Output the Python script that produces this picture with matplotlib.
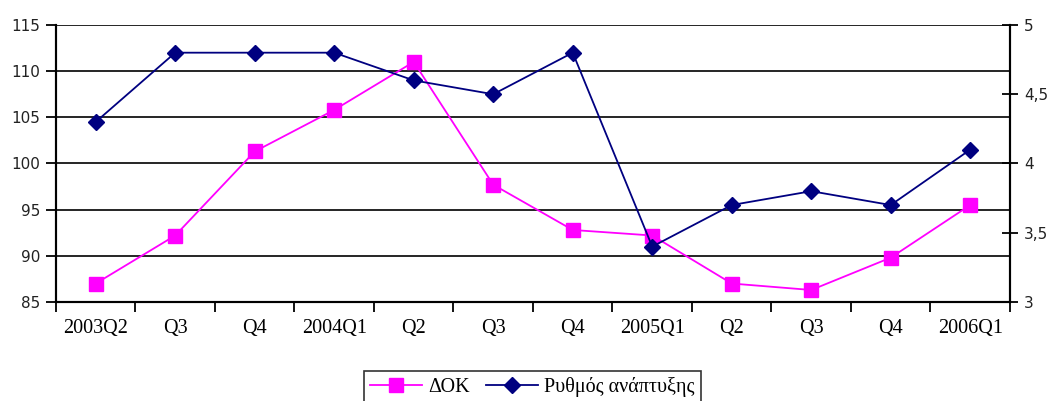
import numpy as np
import matplotlib.pyplot as plt

plt.rcParams['font.family'] = ['Liberation Serif', 'DejaVu Serif']

quarters = ["2003Q2", "Q3", "Q4", "2004Q1", "Q2", "Q3", "Q4",
            "2005Q1", "Q2", "Q3", "Q4", "2006Q1"]
dok = [87.0, 92.2, 101.3, 105.8, 111.0, 97.7, 92.8, 92.2, 87.0, 86.3, 89.8, 95.5]
growth = [4.3, 4.8, 4.8, 4.8, 4.6, 4.5, 4.8, 3.4, 3.7, 3.8, 3.7, 4.1]

fig = plt.figure(figsize=(10.5, 4.01), dpi=100)
ax = fig.add_axes([0.0533, 0.2469, 0.9086, 0.6908])
ax2 = ax.twinx()

x = np.arange(len(quarters))

# gridlines at left-axis major ticks
ax.set_ylim(85, 115)
ax.set_yticks(np.arange(85, 116, 5))
ax.grid(axis='y', color='black', lw=1.2)
ax.set_axisbelow(True)

l1, = ax.plot(x, dok, color='#FF00FF', marker='s', markersize=10, lw=1.3, label='ΔΟΚ')
l2, = ax2.plot(x, growth, color='#000080', marker='D', markersize=8, lw=1.3, label='Ρυθμός ανάπτυξης')

ax.set_xlim(-0.5, len(quarters) - 0.5)
ax.set_xticks(x)
ax.set_xticklabels(quarters)
ax.set_xticks(np.arange(-0.5, len(quarters)), minor=True)
ax.tick_params(axis='x', which='major', length=0, pad=12, labelsize=14.5)
ax.tick_params(axis='x', which='minor', length=7, width=1.3, direction='out')
ax.tick_params(axis='y', length=7, width=1.3, labelsize=11, pad=4, labelcolor='#222222')

ax2.set_ylim(3, 5)
ax2.set_yticks([3, 3.5, 4, 4.5, 5])
ax2.set_yticklabels(['3', '3,5', '4', '4,5', '5'])
ax2.tick_params(axis='y', direction='inout', length=12, width=1.3, labelsize=11, pad=4,
                labelcolor='#222222')

for lab in ax.get_yticklabels() + ax2.get_yticklabels():
    lab.set_family(['DejaVu Sans'])

for a in (ax, ax2):
    a.spines['top'].set_visible(False)
    for s in ('left', 'right', 'bottom'):
        a.spines[s].set_linewidth(1.5)

leg = fig.legend(handles=[l1, l2], loc='upper center', bbox_to_anchor=(0.507, 0.075),
                 ncol=2, frameon=True, fancybox=False, edgecolor='black',
                 fontsize=14.5, handlelength=2.6, columnspacing=0.8, handletextpad=0.3,
                 borderpad=0.3, borderaxespad=0)
leg.get_frame().set_linewidth(1.2)

fig.savefig('out.png', dpi=100)
